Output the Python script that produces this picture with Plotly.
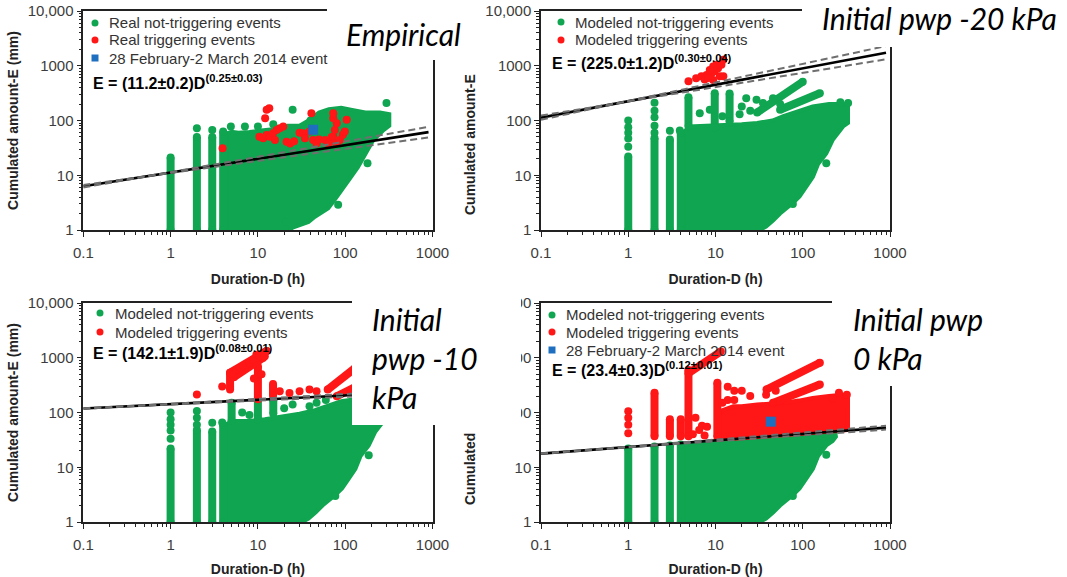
import plotly.graph_objects as go

W, H = 1067, 577

# ---------------- data ----------------
x_tick_vals = [0.1, 1, 10, 100, 1000]
x_tick_text = ["0.1", "1", "10", "100", "1000"]
y_tick_vals = [1, 10, 100, 1000, 10000]
y_tick_text = ["1", "10", "100", "1000", "10,000"]

fit_D_range = [0.1, 900]
# [a, da, b, db] for E = (a±da) D^(b±db)
p1_fit = [11.2, 0.2, 0.25, 0.03]
p2_fit = [225.0, 1.2, 0.30, 0.04]
p3_fit = [142.1, 1.9, 0.08, 0.01]
p4_fit = [23.4, 0.3, 0.12, 0.01]

col_D = [1, 2, 3, 4]
p1_col_top = [21, 50, 50, 63]
p2_col_top = [22, 48, 45, 60]
p3_col_top = [22, 48, 45, 60]
p4_col_top = [22, 24, 25, 26]

# Panel 1 (Empirical)
p1_blob_D = [4.4, 4.4, 5, 6, 8, 10, 12, 15, 19, 22, 30, 38, 50, 65, 90, 120, 170, 250, 320, 320, 270, 210, 170, 140, 110, 87, 75, 64, 45, 38, 25, 23]
p1_blob_E = [1, 58, 62, 60, 62, 65, 66, 70, 72, 80, 80, 100, 140, 160, 170, 155, 140, 140, 130, 80, 65, 44, 25, 14, 8.2, 4.7, 3.5, 2.5, 1.75, 1.4, 1.1, 1]
p1_green_D = [2, 3, 4.9, 7.1, 10, 15, 25, 297, 180, 83, 21, 40]
p1_green_E = [72, 67, 78, 78, 78, 85, 157, 208, 16.5, 2.9, 1.4, 100]
p1_red_D = [3.94, 10.4, 11.5, 12.6, 13.7, 14.9, 16.4, 17.8, 19.5, 15.7, 12.1, 12.6, 13.5, 21.3, 23.4, 26, 30, 33, 34.5, 39,
            41, 43, 47, 50, 59, 64, 66.7, 70, 73, 73, 73, 76, 80, 80, 87, 94, 99, 104]
p1_red_E = [31, 50.6, 47.5, 54.6, 50.6, 58.6, 67, 72, 78, 44, 110, 157, 167, 41, 38, 42, 60, 58.6, 47.5, 63,
            136, 44, 38, 45, 44, 38, 41, 50, 51, 110, 136, 67, 89, 38, 44, 55, 63, 103]
event_D = [43]
event_E = [68]

# Panel 2 (Initial pwp -20 kPa)
p2_blob_D = [4.3, 4.3, 5, 8, 12, 20, 30, 45, 60, 90, 130, 200, 300, 330, 330, 290, 220, 186, 150, 131, 110, 92, 77, 55, 46, 38, 32]
p2_blob_E = [1, 60, 78, 80, 85, 85, 90, 100, 120, 150, 180, 200, 200, 180, 90, 78, 44, 25, 16, 9.4, 6.2, 4.1, 3.1, 2.0, 1.5, 1.15, 1]
p2_green_D = [1, 1, 1, 1, 1, 2, 2, 2, 2, 2, 3, 3.9, 6.6, 8.6, 12, 18.9, 20, 22.5, 25, 29.5, 35, 45.6, 55, 186, 77, 331, 270]
p2_green_E = [33, 47, 60, 75, 100, 60, 80, 115, 150, 210, 65, 66, 136, 157, 120, 130, 180, 255, 150, 240, 208, 255, 200, 16.5, 3.0, 208, 215]
p2_gstack_D = [[4.9, 4.9], [9.8, 9.8], [14.5, 14.5]]
p2_gstack_E = [[78, 265], [75, 315], [95, 310]]
p2_gstreak_D = [[30, 100], [55, 157]]
p2_gstreak_E = [[140, 510], [157, 315]]
p2_red_D = [4.9, 6.0, 6.9, 7.9, 9.0, 9.8, 10.7, 11.7, 12.3, 10.2, 9.4, 8.6, 11.2, 9.4, 12.3, 7.5, 8.2]
p2_red_E = [520, 590, 640, 680, 730, 790, 900, 1040, 1290, 1040, 970, 840, 640, 550, 640, 560, 600]

# Panel 3 (Initial pwp -10 kPa)
p3_blob_D = [4.3, 4.3, 5, 8, 12, 20, 30, 45, 60, 90, 130, 200, 300, 330, 330, 290, 220, 186, 150, 131, 110, 92, 77, 55, 46, 38, 32]
p3_blob_E = [1, 60, 70, 70, 75, 85, 95, 110, 130, 160, 175, 185, 185, 170, 90, 78, 44, 25, 16, 9.4, 6.2, 4.1, 3.1, 2.0, 1.5, 1.15, 1]
p3_green_D = [1, 1, 1, 1, 1, 2, 2, 2, 3, 3.9, 6.6, 8, 20, 25, 39, 47, 60, 186, 77]
p3_green_E = [33, 47, 60, 75, 100, 60, 80, 106, 65, 66, 100, 90, 120, 140, 130, 150, 170, 16.5, 3.0]
p3_gstack_D = [[5, 5], [10, 10], [15, 15]]
p3_gstack_E = [[70, 150], [75, 165], [95, 170]]
p3_red_D = [2, 3.9, 5.2, 5.7, 6.2, 6.8, 7.4, 8.1, 8.8, 9.6, 10.5, 11.5, 12.0, 12.6, 14.9, 14.9, 17.8, 23, 30, 39, 47, 11, 9]
p3_red_E = [213, 300, 500, 605, 650, 700, 755, 810, 930, 1140, 1070, 1230, 1070, 1330, 300, 228, 245, 228, 245, 262, 245, 500, 420]
p3_rstack_D = [[4.8, 4.8], [10, 10], [14.9, 14.9]]
p3_rstack_E = [[262, 530], [175, 700], [200, 330]]
p3_rstreak_D = [[4.8, 12.6], [5.3, 11.5], [63, 130], [80, 130]]
p3_rstreak_E = [[532, 1330], [440, 1000], [262, 650], [198, 290]]

# Panel 4 (Initial pwp 0 kPa)
p4_blob_D = [4.3, 4.3, 10, 30, 100, 200, 235, 240, 220, 186, 150, 131, 110, 92, 77, 55, 46, 38, 32]
p4_blob_E = [1, 26, 30, 35, 40, 43, 44, 36, 30, 25, 16, 9.4, 6.2, 4.1, 3.1, 2.0, 1.5, 1.15, 1]
p4_green_D = [186, 77, 195, 170]
p4_green_E = [17, 3.0, 40, 42]
p4_rblob_D = [10, 12, 16, 20, 30, 45, 60, 90, 130, 200, 280, 330, 330, 250, 150, 80, 40, 20, 10]
p4_rblob_E = [80, 110, 130, 130, 140, 145, 150, 165, 185, 200, 210, 190, 48, 46, 43, 40, 37, 34, 32]
p4_red_D = [1, 1, 1, 1, 5.5, 5.9, 7, 7.5, 8, 6.5, 13.8, 13.8, 16.4, 16.4, 20, 38, 49, 12, 320, 220, 260, 25]
p4_red_E = [105, 80, 60, 42, 40, 80, 57, 38, 55, 48, 295, 170, 250, 170, 250, 210, 250, 150, 210, 180, 230, 200]
p4_rstack_D = [[2, 2], [3, 3], [4, 4], [4.9, 4.9], [10.5, 10.5]]
p4_rstack_E = [[37, 230], [37, 75], [37, 75], [37, 600], [36, 350]]
p4_rstreak_D = [[4.9, 11.5], [38.4, 157], [45.6, 157]]
p4_rstreak_E = [[520, 1300], [263, 810], [150, 325]]

# legend labels per panel
p1_labels = ["Real not-triggering events", "Real triggering events", "28 February-2 March 2014 event"]
p2_labels = ["Modeled not-triggering events", "Modeled triggering events"]
p3_labels = ["Modeled not-triggering events", "Modeled triggering events"]
p4_labels = ["Modeled not-triggering events", "Modeled triggering events", "28 February-2 March 2014 event"]

# ---------------- styling / layout constants ----------------
GREEN = "#10a550"
RED = "#ff1616"
BLUE = "#1e6fc0"
AX = "#222222"
TICKC = "#3c3c3c"
SANS = "Liberation Sans, Arial, sans-serif"
TITLEFONT = "Lato, Open Sans, sans-serif"
MS = 8

# panel pixel boxes: x0, x1, ytop, ybottom
PANEL_PX = [(83.3, 432.5, 11, 230), (541, 890, 11, 230), (83.3, 432.5, 303, 522), (541, 890, 303, 522)]

minor_x = [k * 10 ** e for e in range(-1, 3) for k in range(2, 10)]
minor_y = [k * 10 ** e for e in range(0, 4) for k in range(2, 10)]

fig = go.Figure()


def ax_ids(i):
    s = "" if i == 1 else str(i)
    return "x" + s, "y" + s


def seg_xy(D_pairs, E_pairs):
    xs, ys = [], []
    for d, e in zip(D_pairs, E_pairs):
        xs += [d[0], d[1], None]
        ys += [e[0], e[1], None]
    return xs, ys


def add_blob(i, D, E, color):
    xa, ya = ax_ids(i)
    fig.add_trace(go.Scatter(x=D, y=E, xaxis=xa, yaxis=ya, mode="lines", fill="toself",
                             fillcolor=color, line=dict(color=color, width=4),
                             showlegend=False, hoverinfo="skip"))


def add_segs(i, D_pairs, E_pairs, color):
    xa, ya = ax_ids(i)
    xs, ys = seg_xy(D_pairs, E_pairs)
    fig.add_trace(go.Scatter(x=xs, y=ys, xaxis=xa, yaxis=ya, mode="lines+markers",
                             line=dict(color=color, width=MS), marker=dict(color=color, size=MS),
                             showlegend=False, hoverinfo="skip"))


def add_columns(i, tops, color):
    add_segs(i, [[d, d] for d in col_D], [[1, t] for t in tops], color)


def add_dots(i, D, E, color, name, symbol="circle", size=MS):
    xa, ya = ax_ids(i)
    fig.add_trace(go.Scatter(x=D, y=E, xaxis=xa, yaxis=ya, mode="markers", name=name,
                             marker=dict(color=color, size=size, symbol=symbol, line=dict(width=0)),
                             showlegend=False))


def add_fit(i, params):
    xa, ya = ax_ids(i)
    a, da, b, db = params
    main = [a * d ** b for d in fit_D_range]
    up = [(a + da) * d ** (b + db) for d in fit_D_range]
    lo = [(a - da) * d ** (b - db) for d in fit_D_range]
    fig.add_trace(go.Scatter(x=fit_D_range, y=main, xaxis=xa, yaxis=ya, mode="lines", name="fit",
                             line=dict(color="black", width=2.6), showlegend=False, hoverinfo="skip"))
    for yy in (up, lo):
        fig.add_trace(go.Scatter(x=fit_D_range, y=yy, xaxis=xa, yaxis=ya, mode="lines",
                                 line=dict(color="#6f6f6f", width=2, dash="7px,4px"),
                                 showlegend=False, hoverinfo="skip"))


# ---- Panel 1
add_blob(1, p1_blob_D, p1_blob_E, GREEN)
add_columns(1, p1_col_top, GREEN)
add_dots(1, p1_green_D, p1_green_E, GREEN, p1_labels[0])
add_dots(1, p1_red_D, p1_red_E, RED, p1_labels[1])
add_dots(1, event_D, event_E, BLUE, p1_labels[2], symbol="square", size=10)
add_fit(1, p1_fit)

# ---- Panel 2
add_blob(2, p2_blob_D, p2_blob_E, GREEN)
add_columns(2, p2_col_top, GREEN)
add_segs(2, p2_gstack_D, p2_gstack_E, GREEN)
add_segs(2, p2_gstreak_D, p2_gstreak_E, GREEN)
add_dots(2, p2_green_D, p2_green_E, GREEN, p2_labels[0])
add_dots(2, p2_red_D, p2_red_E, RED, p2_labels[1])
add_fit(2, p2_fit)

# ---- Panel 3
add_blob(3, p3_blob_D, p3_blob_E, GREEN)
add_columns(3, p3_col_top, GREEN)
add_segs(3, p3_gstack_D, p3_gstack_E, GREEN)
add_dots(3, p3_green_D, p3_green_E, GREEN, p3_labels[0])
add_segs(3, p3_rstack_D, p3_rstack_E, RED)
add_segs(3, p3_rstreak_D, p3_rstreak_E, RED)
add_dots(3, p3_red_D, p3_red_E, RED, p3_labels[1])
add_fit(3, p3_fit)

# ---- Panel 4
add_blob(4, p4_blob_D, p4_blob_E, GREEN)
add_columns(4, p4_col_top, GREEN)
add_dots(4, p4_green_D, p4_green_E, GREEN, p4_labels[0])
add_blob(4, p4_rblob_D, p4_rblob_E, RED)
add_segs(4, p4_rstack_D, p4_rstack_E, RED)
add_segs(4, p4_rstreak_D, p4_rstreak_E, RED)
add_dots(4, p4_red_D, p4_red_E, RED, p4_labels[1])
add_dots(4, event_D, event_E, BLUE, p4_labels[2], symbol="square", size=10)
add_fit(4, p4_fit)

# ---------------- axes ----------------
layout = {}
for i, (x0, x1, yt, yb) in enumerate(PANEL_PX, start=1):
    s = "" if i == 1 else str(i)
    common = dict(type="log", showgrid=False, zeroline=False, showline=True, linecolor=AX, linewidth=1.5,
                  mirror=True, ticks="outside", ticklen=5, tickwidth=1, tickcolor=AX, automargin=False,
                  tickfont=dict(family=SANS, size=15, color=TICKC))
    xa = dict(common, domain=[x0 / W, x1 / W], anchor="y" + s, range=[-1, 3],
              tickmode="array", tickvals=x_tick_vals, ticktext=x_tick_text, ticklabelstandoff=3,
              minor=dict(tickvals=minor_x, ticks="outside", ticklen=3, tickcolor=AX, showgrid=False),
              title=dict(text="<b>Duration-D (h)</b>", font=dict(family=SANS, size=14, color="#222"), standoff=14))
    ya = dict(common, domain=[1 - yb / H, 1 - yt / H], anchor="x" + s, range=[0, 4],
              tickmode="array", tickvals=y_tick_vals, ticktext=y_tick_text,
              minor=dict(tickvals=minor_y, ticks="outside", ticklen=3, tickcolor=AX, showgrid=False))
    if i in (1, 3):
        ya["title"] = dict(text="<b>Cumulated amount-E (mm)</b>", font=dict(family=SANS, size=14, color="#222"),
                           standoff=6)
    layout["xaxis" + s] = xa
    layout["yaxis" + s] = ya

# ---------------- white text boxes (overlaid) ----------------
boxes = [(327, 482, 0, 60), (802, 1067, 0, 47), (352, 521, 286, 425), (832, 1067, 286, 386)]
shapes = [dict(type="rect", xref="paper", yref="paper", x0=a / W, x1=b / W, y0=1 - d / H, y1=1 - c / H,
               fillcolor="white", line=dict(width=0), layer="above") for a, b, c, d in boxes]

LEGF = dict(family=SANS, size=15, color="#333")
annotations = []
# hand-built legends: (marker x, text x, row ys, labels, colours, symbols)
legend_specs = [
    (95, 109, [23, 40, 58], p1_labels, [GREEN, RED, BLUE], ["circle", "circle", "square"]),
    (561, 575, [22, 40], p2_labels, [GREEN, RED], ["circle", "circle"]),
    (100, 115, [313, 332], p3_labels, [GREEN, RED], ["circle", "circle"]),
    (552, 566, [315, 332, 350], p4_labels, [GREEN, RED, BLUE], ["circle", "circle", "square"]),
]
for mx, tx, rows, labels, cols, syms in legend_specs:
    for ry, lab, col, sym in zip(rows, labels, cols, syms):
        r = 3.5
        shapes.append(dict(type="circle" if sym == "circle" else "rect", xref="paper", yref="paper",
                           x0=(mx - r) / W, x1=(mx + r) / W, y0=1 - (ry + r) / H, y1=1 - (ry - r) / H,
                           fillcolor=col, line=dict(width=0), layer="above"))
        annotations.append(dict(text=lab, x=tx / W, y=1 - ry / H, font=LEGF))

EQF = dict(family=SANS, size=16, color="black")
TF = dict(family=TITLEFONT, size=30, color="black")
annotations += [
    dict(text="<b>E = (11.2±0.2)D<sup>(0.25±0.03)</sup></b>", x=93 / W, y=1 - 82 / H, font=EQF),
    dict(text="<b>E = (225.0±1.2)D<sup>(0.30±0.04)</sup></b>", x=552 / W, y=1 - 62 / H, font=EQF),
    dict(text="<b>E = (142.1±1.9)D<sup>(0.08±0.01)</sup></b>", x=93 / W, y=1 - 352 / H, font=EQF),
    dict(text="<b>E = (23.4±0.3)D<sup>(0.12±0.01)</sup></b>", x=552 / W, y=1 - 369 / H, font=EQF),
    dict(text="<i>Empirical</i>", x=346 / W, y=1 - 34 / H, font=TF),
    dict(text="<i>Initial pwp -20 kPa</i>", x=822 / W, y=1 - 18 / H, font=TF),
    dict(text="<i>Initial<br>pwp -10<br>kPa</i>", x=372 / W, y=1 - 358 / H, font=TF, align="left"),
    dict(text="<i>Initial pwp<br>0 kPa</i>", x=853 / W, y=1 - 338 / H, font=TF, align="left"),
    dict(text="<b>Cumulated amount-E</b>", x=470 / W, y=1 - 145 / H, textangle=-90, xanchor="center",
         font=dict(family=SANS, size=14, color="#222")),
    dict(text="<b>Cumulated</b>", x=470 / W, y=1 - 469 / H, textangle=-90, xanchor="center",
         font=dict(family=SANS, size=14, color="#222")),
]
for a in annotations:
    a.setdefault("xanchor", "left")
    a.setdefault("yanchor", "middle")
    a.update(xref="paper", yref="paper", showarrow=False, borderpad=0, borderwidth=0)

fig.update_layout(template="none", width=W, height=H, margin=dict(l=0, r=0, t=0, b=0, autoexpand=False),
                  autosize=False, plot_bgcolor="white", paper_bgcolor="white", shapes=shapes,
                  annotations=annotations, showlegend=False, **layout)

fig.write_html("out.html", config={"displayModeBar": False},
               post_script="document.body.style.margin='0px';")
